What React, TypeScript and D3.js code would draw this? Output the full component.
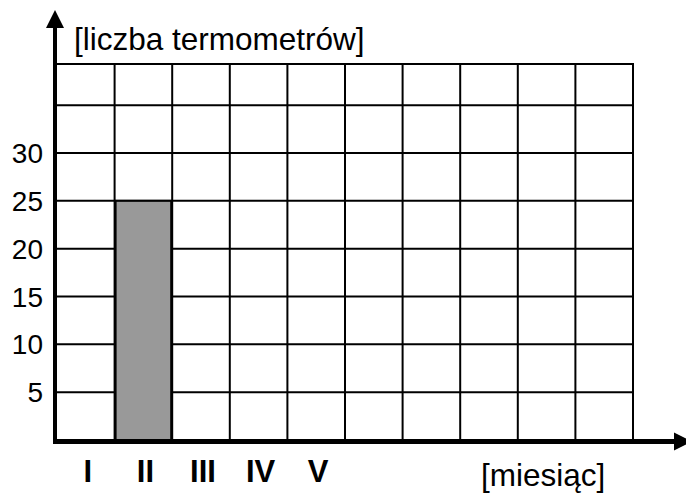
import React, { useEffect, useRef } from 'react';
import * as d3 from 'd3';

// months on the horizontal axis (only the first five are labelled)
const months = ['I', 'II', 'III', 'IV', 'V'];
const columnCount = 10;
// number of thermometers per month (only February is filled in)
const thermometers: (number | null)[] = [null, 25, null, null, null];
const yTicks = [5, 10, 15, 20, 25, 30];
const yGridLines = [5, 10, 15, 20, 25, 30, 35];
const yTop = 39.3;
const yTitle = '[liczba termometrów]';
const xTitle = '[miesiąc]';

const W = 686;
const H = 495;
const FONT = '"Liberation Sans", Arial, sans-serif';

export default function App() {
    const ref = useRef<SVGSVGElement>(null);

    useEffect(() => {
        const svg = d3.select(ref.current);
        svg.selectAll('*').remove();

        const x = d3.scaleLinear().domain([0, columnCount]).range([57, 633]);
        const y = d3.scaleLinear().domain([0, 30]).range([440, 153]);

        const grid = svg.append('g')
            .attr('stroke', '#000')
            .attr('stroke-width', 2);

        // horizontal lines
        grid.selectAll('.h')
            .data([...yGridLines, yTop])
            .enter().append('line')
            .attr('x1', x(0))
            .attr('x2', x(columnCount))
            .attr('y1', d => y(d))
            .attr('y2', d => y(d));

        // vertical lines
        grid.selectAll('.v')
            .data(d3.range(1, columnCount + 1))
            .enter().append('line')
            .attr('x1', d => x(d))
            .attr('x2', d => x(d))
            .attr('y1', y(yTop) - 1)
            .attr('y2', y(0));

        // bars
        svg.append('g').selectAll('rect')
            .data(thermometers.map((v, i) => ({ v, i })).filter(d => d.v != null))
            .enter().append('rect')
            .attr('x', d => x(d.i) + 1)
            .attr('width', d => x(d.i + 1) - x(d.i) - 2)
            .attr('y', d => y(d.v as number))
            .attr('height', d => y(0) - y(d.v as number))
            .attr('fill', '#999999')
            .attr('stroke', '#000')
            .attr('stroke-width', 2);

        // axes
        const ax = x(0) - 2;
        const ay = y(0) + 1.5;
        svg.append('line')
            .attr('x1', ax).attr('x2', ax)
            .attr('y1', ay + 2).attr('y2', 26)
            .attr('stroke', '#000').attr('stroke-width', 4);
        svg.append('path')
            .attr('d', `M${ax},10 L${ax - 9},28 L${ax + 9},28 Z`)
            .attr('fill', '#000');
        svg.append('line')
            .attr('x1', ax - 2).attr('x2', 676)
            .attr('y1', ay).attr('y2', ay)
            .attr('stroke', '#000').attr('stroke-width', 5);
        svg.append('path')
            .attr('d', `M692,${ay} L674,${ay - 9} L674,${ay + 9} Z`)
            .attr('fill', '#000');

        // y tick labels
        svg.append('g').selectAll('text')
            .data(yTicks)
            .enter().append('text')
            .attr('x', 43)
            .attr('y', d => y(d))
            .attr('dy', '0.36em')
            .attr('text-anchor', 'end')
            .attr('font-family', FONT)
            .attr('font-size', 28)
            .text(d => d);

        // month labels
        svg.append('g').selectAll('text')
            .data(months)
            .enter().append('text')
            .attr('x', (d, i) => x(i + 0.5) + 2)
            .attr('y', 482)
            .attr('text-anchor', 'middle')
            .attr('font-family', FONT)
            .attr('font-weight', 'bold')
            .attr('font-size', 31)
            .text(d => d);

        // axis titles
        svg.append('text')
            .attr('x', 74)
            .attr('y', 50)
            .attr('font-family', FONT)
            .attr('font-size', 31.5)
            .text(yTitle);
        svg.append('text')
            .attr('x', 481)
            .attr('y', 486)
            .attr('font-family', FONT)
            .attr('font-size', 31.5)
            .text(xTitle);
    }, []);

    return (
        <svg ref={ref} width={W} height={H}
            style={{ position: 'absolute', left: 0, top: 0, background: '#fff' }} />
    );
}
